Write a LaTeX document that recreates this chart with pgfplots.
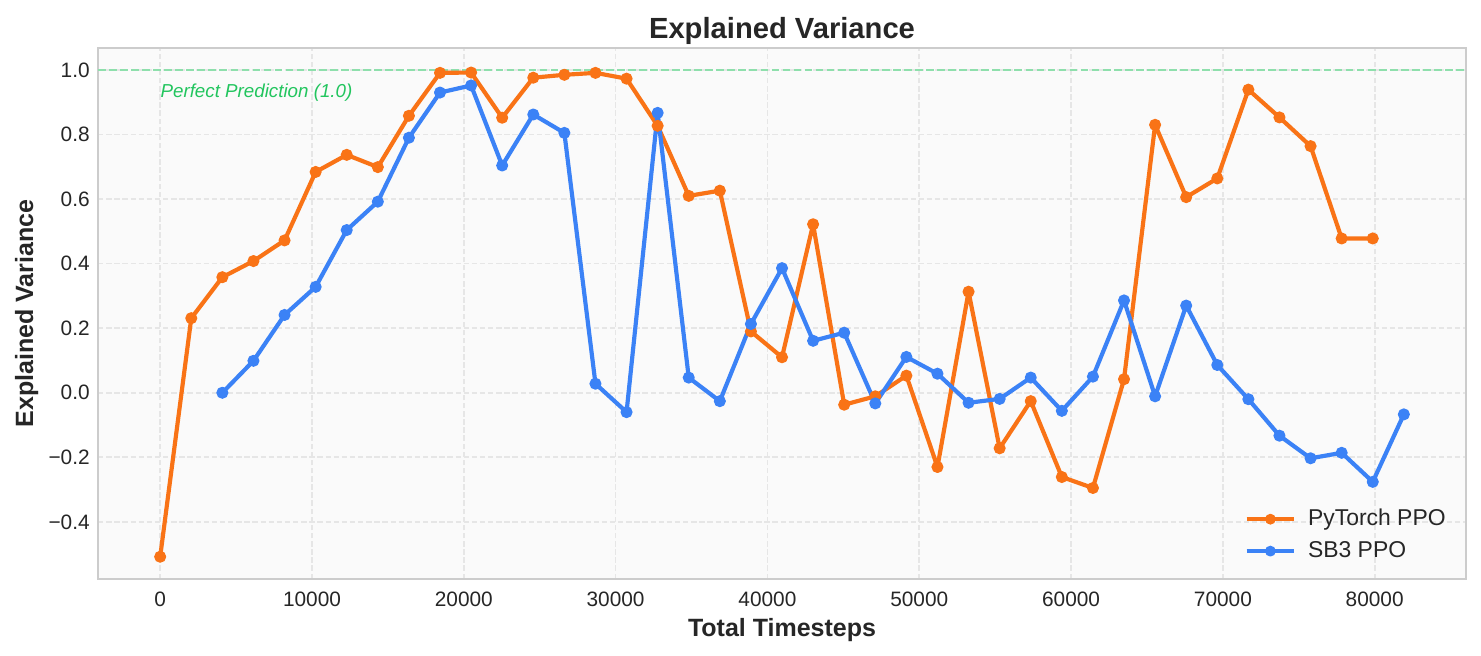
\documentclass[border=0pt]{standalone}
\usepackage{fontspec}
\setmainfont{Liberation Sans}
\usepackage{pgfplots}
\pgfplotsset{compat=1.18}

\definecolor{ptorange}{HTML}{F97316}
\definecolor{sbblue}{HTML}{3B82F6}
\definecolor{refgreen}{HTML}{22C55E}
\definecolor{refline}{HTML}{8EDFAC}
\definecolor{panelbg}{HTML}{FAFAFA}
\definecolor{gridcol}{HTML}{E6E6E6}
\definecolor{framecol}{HTML}{CCCCCC}
\definecolor{txt}{HTML}{262626}

% x = total timesteps (rollouts of 2048), y = explained variance
\pgfplotstableread{
x y
0 -0.508
2048 0.231
4096 0.358
6144 0.408
8192 0.472
10240 0.684
12288 0.737
14336 0.699
16384 0.858
18432 0.991
20480 0.992
22528 0.852
24576 0.976
26624 0.985
28672 0.991
30720 0.973
32768 0.827
34816 0.610
36864 0.626
38912 0.190
40960 0.110
43008 0.522
45056 -0.037
47104 -0.011
49152 0.053
51200 -0.230
53248 0.313
55296 -0.172
57344 -0.026
59392 -0.261
61440 -0.295
63488 0.042
65536 0.830
67584 0.606
69632 0.664
71680 0.939
73728 0.853
75776 0.764
77824 0.478
79872 0.478
}\torchppo

\pgfplotstableread{
x y
4096 0.000
6144 0.099
8192 0.241
10240 0.328
12288 0.504
14336 0.592
16384 0.790
18432 0.930
20480 0.952
22528 0.704
24576 0.862
26624 0.805
28672 0.028
30720 -0.060
32768 0.867
34816 0.047
36864 -0.026
38912 0.213
40960 0.386
43008 0.161
45056 0.186
47104 -0.033
49152 0.111
51200 0.059
53248 -0.031
55296 -0.019
57344 0.047
59392 -0.056
61440 0.050
63488 0.286
65536 -0.011
67584 0.270
69632 0.086
71680 -0.020
73728 -0.133
75776 -0.203
77824 -0.186
79872 -0.276
81920 -0.067
}\sbppo

\begin{document}
\begin{tikzpicture}
\fill[white, use as bounding box] (-47.04pt,-36.48pt) rectangle (663.84pt,277.92pt);
\begin{axis}[
    scale only axis,
    width=656.64pt, height=254.88pt,
    xmin=-4096, xmax=86016,
    ymin=-0.577, ymax=1.068,
    axis background/.style={fill=panelbg},
    axis line style={framecol, line width=1.25pt},
    major tick length=0pt,
    xtick={0,10000,...,80000},
    ytick={-0.4,-0.2,0,0.2,0.4,0.6,0.8,1.0},
    yticklabels={−0.4,−0.2,0.0,0.2,0.4,0.6,0.8,1.0},
    scaled x ticks=false,
    /pgf/number format/1000 sep={},
    /pgf/number format/assume math mode=true,
    ticklabel style={font=\fontsize{10}{12}\selectfont, text=txt},
    xticklabel style={anchor=base, yshift=-13pt},
    yticklabel style={anchor=east, inner sep=0pt, xshift=-3.8pt},
    grid=major,
    major grid style={gridcol, line width=0.8pt, dash pattern=on 2.6pt off 1.3pt},
    title={Explained Variance},
    every axis title shift=0pt,
    title style={font=\bfseries\fontsize{14}{17}\selectfont, text=txt,
        anchor=base, at={(axis description cs:0.5,1.0188)}},
    xlabel={Total Timesteps},
    xlabel style={font=\bfseries\fontsize{12}{14}\selectfont, text=txt,
        anchor=base, at={(axis description cs:0.5,-0.1075)}},
    ylabel={Explained Variance},
    ylabel style={font=\bfseries\fontsize{12}{14}\selectfont, text=txt,
        anchor=base, at={(axis description cs:-0.0475,0.5)}},
    legend style={draw=none, fill=none, at={(1,0)}, anchor=south east,
        xshift=-4.6pt, yshift=4.6pt,
        font=\fontsize{11}{13}\selectfont, text=txt,
        row sep=2pt},
    legend cell align=left,
    legend image code/.code={
        \draw[mark repeat=2, mark phase=2, mark size=2.3pt]
            plot coordinates {(0cm,0cm) (0.4cm,0cm) (0.8cm,0cm)};
        \path (0.93cm,0cm);
    },
    every axis plot/.append style={line width=2pt, line join=round},
]
% perfect prediction reference
\addplot[refline, line width=1pt, dash pattern=on 3.7pt off 1.6pt, forget plot]
    coordinates {(-4096,1) (86016,1)};
\node[anchor=base west, inner sep=0pt, text=refgreen,
    font=\itshape\fontsize{9}{11}\selectfont] at (axis cs:0,0.916) {Perfect Prediction (1.0)};

\addplot[ptorange, mark=*, mark size=2.6pt, mark options={solid, fill=ptorange, line width=0.6pt}]
    table[x=x, y=y] {\torchppo};
\addplot[sbblue, mark=*, mark size=2.6pt, mark options={solid, fill=sbblue, line width=0.6pt}]
    table[x=x, y=y] {\sbppo};
\legend{PyTorch PPO, SB3 PPO}
\end{axis}
\end{tikzpicture}
\end{document}
